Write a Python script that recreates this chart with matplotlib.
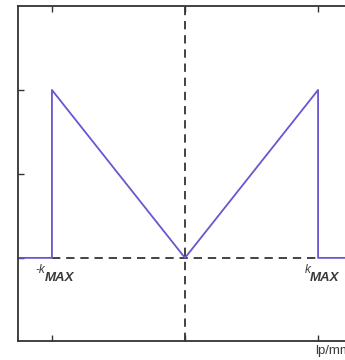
import matplotlib
matplotlib.use("Agg")
import matplotlib.pyplot as plt

# Ramp-filter frequency response |k| limited to [-kMAX, kMAX]
k_max = 1.0
freq = [-1.4, -k_max, -k_max, 0.0, k_max, k_max, 1.4]
response = [0.0, 0.0, 2.0, 0.0, 2.0, 0.0, 0.0]

xticks = [-k_max, 0.0, k_max]
yticks = [0, 1, 2]

fig = plt.figure(figsize=(3.45, 3.6), dpi=100)
ax = fig.add_axes([18 / 345, 19 / 360, 334 / 345, 335 / 360])

ax.set_xlim(-1.255, 1.255)
ax.set_ylim(-0.99, 3.0)

# dashed reference axes
ax.axvline(0, color="#222222", lw=1.2, ls=(0, (5, 3.5)), zorder=1)
ax.plot([-k_max, k_max], [0, 0], color="#222222", lw=1.2, ls=(0, (5, 3.5)), zorder=1)

ax.plot(freq, response, color="#6a55d2", lw=1.3, zorder=2)

ax.set_xticks(xticks)
ax.set_yticks(yticks)
ax.set_xticklabels([])
ax.set_yticklabels([])
ax.tick_params(direction="in", length=4, width=1, color="#333333",
               top=True, bottom=True, left=True, right=True)
for s in ax.spines.values():
    s.set_color("#333333")
    s.set_linewidth(1.3)

lab = dict(color="#3a3a3a", fontfamily="Liberation Sans", clip_on=False)
ax.text(-1.125, -0.14, "-k", fontsize=8.5, style="italic", va="center", ha="left", **lab)
ax.text(-1.055, -0.245, "MAX", fontsize=9.5, fontweight="bold", style="italic",
        va="center", ha="left", **lab)
ax.text(0.9, -0.14, "k", fontsize=8.5, style="italic", va="center", ha="left", **lab)
ax.text(0.935, -0.245, "MAX", fontsize=9.5, fontweight="bold", style="italic",
        va="center", ha="left", **lab)
ax.text(0.98, -1.11, "lp/mm", fontsize=9.5, va="center", ha="left", **lab)

fig.savefig("out.png", dpi=100)
